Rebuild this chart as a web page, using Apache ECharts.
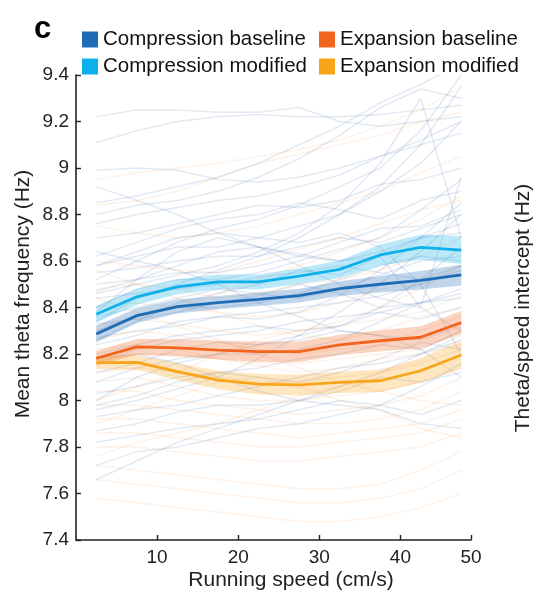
<!DOCTYPE html>
<html>
<head>
<meta charset="utf-8">
<script src="https://cdn.jsdelivr.net/npm/echarts@6/dist/echarts.min.js"></script>
<style>
  html, body { margin: 0; padding: 0; background: #fff; }
  #chart { width: 543px; height: 595px; }
</style>
</head>
<body>
<div id="chart"></div>
<script>
// Running-speed bins (cm/s), bin centres
const speed = [2.5, 7.5, 12.5, 17.5, 22.5, 27.5, 32.5, 37.5, 42.5, 47.5];

// Group means (Hz)
const compBaseline = [8.286, 8.365, 8.404, 8.421, 8.435, 8.451, 8.481, 8.500, 8.517, 8.540];
const compModified = [8.371, 8.446, 8.489, 8.510, 8.510, 8.535, 8.564, 8.626, 8.659, 8.647];
const expBaseline  = [8.181, 8.231, 8.226, 8.217, 8.210, 8.210, 8.239, 8.257, 8.272, 8.335];
const expModified  = [8.163, 8.164, 8.124, 8.088, 8.070, 8.067, 8.078, 8.085, 8.128, 8.196];

// Standard errors (Hz)
const compBaselineSem = [0.036, 0.032, 0.030, 0.029, 0.029, 0.030, 0.032, 0.036, 0.040, 0.045];
const compModifiedSem = [0.036, 0.034, 0.032, 0.032, 0.032, 0.034, 0.038, 0.045, 0.054, 0.060];
const expBaselineSem  = [0.032, 0.034, 0.037, 0.040, 0.044, 0.044, 0.044, 0.045, 0.047, 0.050];
const expModifiedSem  = [0.028, 0.032, 0.036, 0.040, 0.044, 0.045, 0.046, 0.048, 0.052, 0.058];

// Individual compression sessions (Hz)
const compSessions = [
  [9.22, 9.25, 9.25, 9.24, 9.24, 9.26, 9.20, 9.18, 9.20, 9.22],
  [9.11, 9.16, 9.20, 9.22, 9.23, 9.22, 9.22, 9.23, 9.25, 9.27],
  [8.99, 9.00, 8.99, 8.95, 8.94, 8.96, 9.00, 9.05, 9.10, 9.15],
  [8.85, 8.88, 8.92, 8.96, 9.02, 9.10, 9.18, 9.28, 9.36, 9.45],
  [8.76, 8.80, 8.83, 8.86, 8.88, 8.92, 8.97, 9.05, 9.12, 9.20],
  [8.70, 8.72, 8.76, 8.80, 8.84, 8.83, 8.86, 8.93, 8.95, 9.00],
  [8.62, 8.68, 8.74, 8.78, 8.80, 8.85, 8.82, 8.78, 8.86, 8.90],
  [8.58, 8.62, 8.66, 8.66, 8.70, 8.75, 8.80, 8.92, 9.10, 9.35],
  [8.55, 8.57, 8.60, 8.62, 8.62, 8.66, 8.70, 8.68, 8.74, 8.80],
  [8.50, 8.52, 8.58, 8.64, 8.66, 8.63, 8.60, 8.62, 8.70, 8.72],
  [8.47, 8.52, 8.55, 8.55, 8.58, 8.62, 8.68, 8.74, 8.75, 8.82],
  [8.44, 8.46, 8.48, 8.50, 8.53, 8.55, 8.58, 8.55, 8.52, 8.58],
  [8.40, 8.48, 8.52, 8.52, 8.55, 8.60, 8.65, 8.70, 8.82, 8.95],
  [8.36, 8.40, 8.44, 8.48, 8.46, 8.44, 8.48, 8.54, 8.60, 8.62],
  [8.33, 8.35, 8.38, 8.42, 8.45, 8.50, 8.46, 8.40, 8.42, 8.48],
  [8.30, 8.36, 8.40, 8.40, 8.42, 8.46, 8.52, 8.58, 8.62, 8.60],
  [8.27, 8.30, 8.32, 8.36, 8.38, 8.40, 8.42, 8.45, 8.50, 8.56],
  [8.24, 8.28, 8.34, 8.36, 8.35, 8.38, 8.45, 8.56, 8.70, 8.85],
  [8.20, 8.24, 8.28, 8.30, 8.32, 8.30, 8.32, 8.38, 8.35, 8.40],
  [8.16, 8.22, 8.26, 8.28, 8.30, 8.34, 8.36, 8.38, 8.42, 8.44],
  [8.12, 8.16, 8.22, 8.25, 8.24, 8.26, 8.30, 8.28, 8.26, 8.32],
  [8.08, 8.14, 8.18, 8.20, 8.24, 8.28, 8.32, 8.40, 8.52, 8.66],
  [8.03, 8.06, 8.10, 8.12, 8.14, 8.18, 8.20, 8.24, 8.22, 8.30],
  [7.98, 8.02, 8.08, 8.12, 8.10, 8.08, 8.12, 8.18, 8.25, 8.22],
  [7.93, 7.96, 7.98, 8.02, 8.06, 8.10, 8.14, 8.16, 8.20, 8.26],
  [7.87, 7.90, 7.95, 7.98, 7.98, 8.00, 8.04, 8.10, 8.08, 8.12],
  [7.82, 7.85, 7.88, 7.90, 7.92, 7.96, 8.00, 7.98, 7.94, 8.00],
  [8.38, 8.52, 8.64, 8.70, 8.66, 8.58, 8.50, 8.44, 8.40, 8.30],
  [8.64, 8.60, 8.56, 8.50, 8.42, 8.36, 8.30, 8.28, 8.22, 8.10],
  [8.92, 8.86, 8.80, 8.72, 8.66, 8.62, 8.60, 8.64, 8.70, 8.76],
  [8.18, 8.20, 8.16, 8.10, 8.04, 8.00, 7.98, 7.96, 7.90, 7.88],
  [7.96, 8.00, 8.05, 8.10, 8.18, 8.28, 8.38, 8.50, 8.64, 8.80],
  [8.52, 8.60, 8.68, 8.74, 8.78, 8.84, 8.92, 9.00, 9.16, 9.40],
  [7.72, 7.78, 7.80, 7.84, 7.88, 7.90, 7.94, 7.98, 8.06, 8.16],
  [8.80, 8.84, 8.86, 8.90, 8.96, 9.04, 9.14, 9.26, 9.34, 9.30],
  [8.34, 8.44, 8.50, 8.56, 8.62, 8.70, 8.80, 8.90, 9.02, 9.20],
  [8.00, 8.10, 8.16, 8.20, 8.20, 8.22, 8.26, 8.34, 8.42, 8.46],
  [7.66, 7.74, 7.82, 7.88, 7.94, 8.00, 8.06, 8.12, 8.20, 8.28],
  [8.46, 8.50, 8.54, 8.58, 8.64, 8.72, 8.84, 9.02, 9.30, 8.70],
  [8.26, 8.34, 8.42, 8.46, 8.50, 8.56, 8.54, 8.62, 8.40, 8.96],
  [8.58, 8.64, 8.70, 8.72, 8.70, 8.68, 8.72, 8.66, 8.50, 8.20]
];

// Individual expansion sessions (Hz)
const expSessions = [
  [8.95, 8.98, 9.00, 9.02, 9.05, 9.08, 9.12, 9.18, 9.25, 9.35],
  [8.75, 8.72, 8.70, 8.72, 8.75, 8.80, 8.85, 8.90, 8.98, 9.05],
  [8.60, 8.58, 8.56, 8.55, 8.60, 8.65, 8.70, 8.76, 8.82, 8.86],
  [8.48, 8.50, 8.48, 8.44, 8.46, 8.50, 8.52, 8.56, 8.62, 8.70],
  [8.40, 8.42, 8.40, 8.38, 8.36, 8.38, 8.42, 8.48, 8.50, 8.58],
  [8.32, 8.35, 8.33, 8.30, 8.28, 8.30, 8.32, 8.35, 8.38, 8.45],
  [8.26, 8.30, 8.28, 8.25, 8.22, 8.20, 8.22, 8.24, 8.30, 8.36],
  [8.22, 8.24, 8.22, 8.18, 8.16, 8.16, 8.18, 8.20, 8.22, 8.30],
  [8.17, 8.20, 8.20, 8.18, 8.15, 8.12, 8.14, 8.18, 8.20, 8.24],
  [8.12, 8.14, 8.12, 8.10, 8.08, 8.08, 8.10, 8.12, 8.16, 8.22],
  [8.08, 8.10, 8.06, 8.02, 8.00, 8.00, 8.02, 8.04, 8.08, 8.14],
  [8.04, 8.04, 8.00, 7.98, 7.96, 7.94, 7.96, 7.98, 8.02, 8.10],
  [7.98, 7.98, 7.96, 7.94, 7.92, 7.90, 7.90, 7.92, 7.96, 8.04],
  [7.92, 7.92, 7.90, 7.88, 7.86, 7.84, 7.86, 7.88, 7.90, 7.96],
  [7.86, 7.86, 7.84, 7.82, 7.80, 7.80, 7.82, 7.84, 7.86, 7.92],
  [7.80, 7.80, 7.78, 7.76, 7.74, 7.74, 7.76, 7.78, 7.80, 7.86],
  [7.72, 7.70, 7.68, 7.66, 7.64, 7.62, 7.62, 7.64, 7.70, 7.78],
  [7.66, 7.64, 7.62, 7.60, 7.58, 7.56, 7.56, 7.58, 7.62, 7.70],
  [7.58, 7.56, 7.54, 7.52, 7.50, 7.48, 7.48, 7.50, 7.54, 7.60],
  [8.30, 8.36, 8.40, 8.46, 8.52, 8.58, 8.64, 8.70, 8.78, 8.88],
  [8.00, 8.06, 8.12, 8.20, 8.26, 8.30, 8.34, 8.40, 8.48, 8.58],
  [8.44, 8.38, 8.32, 8.26, 8.20, 8.14, 8.08, 8.04, 8.00, 7.98],
  [7.90, 7.96, 8.02, 8.08, 8.10, 8.06, 8.00, 7.96, 7.88, 7.84],
  [8.56, 8.50, 8.44, 8.38, 8.32, 8.28, 8.26, 8.30, 8.36, 8.40],
  [8.84, 8.86, 8.90, 8.96, 9.02, 9.06, 9.10, 9.14, 9.20, 9.24],
  [7.76, 7.82, 7.86, 7.90, 7.96, 8.02, 8.06, 8.12, 8.18, 8.26]
];

// Axis ticks: the last tick sits at the axis end and carries the label "50"
const xTickValues = [10, 20, 30, 40, 48.7];
const xTickLabels = ['10', '20', '30', '40', '50'];

const FONT = '"Liberation Sans", Arial, Helvetica, sans-serif';
const colors = {
  compBaseline: '#1f6cb6',
  compModified: '#0db0ea',
  expBaseline: '#f2651f',
  expModified: '#f9a51c'
};

const pairs = ys => speed.map((x, i) => [x, ys[i]]);

function traceSeries(ys, color) {
  return {
    type: 'line', data: pairs(ys), silent: true, showSymbol: false, z: 1,
    lineStyle: { width: 1.5, color: color }, emphasis: { disabled: true }
  };
}

function bandSeries(mean, sem, color) {
  return {
    type: 'custom', silent: true, z: 2, clip: true,
    data: [[speed[0], mean[0]]],
    renderItem: (params, api) => {
      const upper = speed.map((x, i) => api.coord([x, mean[i] + sem[i]]));
      const lower = speed.map((x, i) => api.coord([x, mean[i] - sem[i]])).reverse();
      return {
        type: 'polygon',
        shape: { points: upper.concat(lower) },
        style: { fill: color, opacity: 0.28 }
      };
    }
  };
}

function meanSeries(name, ys, color) {
  return {
    name: name, type: 'line', data: pairs(ys), showSymbol: false, z: 5,
    color: color, lineStyle: { width: 2.8, color: color },
    emphasis: { disabled: true }
  };
}

const series = [];
compSessions.forEach(s => series.push(traceSeries(s, 'rgba(60,100,170,0.14)')));
expSessions.forEach(s => series.push(traceSeries(s, 'rgba(245,140,60,0.12)')));
series.push(bandSeries(compBaseline, compBaselineSem, colors.compBaseline));
series.push(bandSeries(compModified, compModifiedSem, colors.compModified));
series.push(bandSeries(expBaseline, expBaselineSem, colors.expBaseline));
series.push(bandSeries(expModified, expModifiedSem, colors.expModified));
series.push(meanSeries('Compression baseline', compBaseline, colors.compBaseline));
series.push(meanSeries('Compression modified', compModified, colors.compModified));
series.push(meanSeries('Expansion baseline', expBaseline, colors.expBaseline));
series.push(meanSeries('Expansion modified', expModified, colors.expModified));

const legendBase = {
  orient: 'vertical', top: 24, itemWidth: 16, itemHeight: 16, itemGap: 6,
  icon: 'rect', selectedMode: false,
  textStyle: { fontFamily: FONT, fontSize: 20.5, color: '#111' }
};

const chart = echarts.init(document.getElementById('chart'), null, { renderer: 'canvas' });
chart.setOption({
  animation: false,
  backgroundColor: '#fff',
  grid: { left: 76, right: 72, top: 75, bottom: 55 },
  legend: [
    Object.assign({ left: 77, data: ['Compression baseline', 'Compression modified'] }, legendBase),
    Object.assign({ left: 314, data: ['Expansion baseline', 'Expansion modified'] }, legendBase)
  ],
  xAxis: {
    type: 'value', min: 0, max: 48.7,
    splitLine: { show: false },
    axisLine: { lineStyle: { color: '#222', width: 1.6 } },
    axisTick: { inside: true, length: 5, customValues: xTickValues, lineStyle: { color: '#222', width: 1.4 } },
    axisLabel: {
      customValues: xTickValues, margin: 8,
      fontFamily: FONT, fontSize: 19, color: '#222',
      formatter: v => xTickLabels[xTickValues.indexOf(v)] ?? ''
    }
  },
  yAxis: {
    type: 'value', min: 7.4, max: 9.4, interval: 0.2,
    splitLine: { show: false },
    axisLine: { show: true, lineStyle: { color: '#222', width: 1.6 } },
    axisTick: { show: true, inside: true, length: 5, lineStyle: { color: '#222', width: 1.4 } },
    axisLabel: { margin: 7, fontFamily: FONT, fontSize: 19, color: '#222',
      formatter: v => String(Math.round(v * 10) / 10) }
  },
  graphic: [
    { type: 'text', left: 34, top: 14, style: { text: 'c', font: 'bold 31px ' + FONT, fill: '#000' } },
    { type: 'text', x: 291, y: 580, style: { text: 'Running speed (cm/s)', align: 'center', verticalAlign: 'middle', font: '21px ' + FONT, fill: '#222' } },
    { type: 'text', x: 23, y: 294, rotation: Math.PI / 2, style: { text: 'Mean theta frequency (Hz)', align: 'center', verticalAlign: 'middle', font: '21px ' + FONT, fill: '#222' } },
    { type: 'text', x: 523, y: 308, rotation: Math.PI / 2, style: { text: 'Theta/speed intercept (Hz)', align: 'center', verticalAlign: 'middle', font: '21px ' + FONT, fill: '#222' } }
  ],
  series: series
});
</script>
</body>
</html>
